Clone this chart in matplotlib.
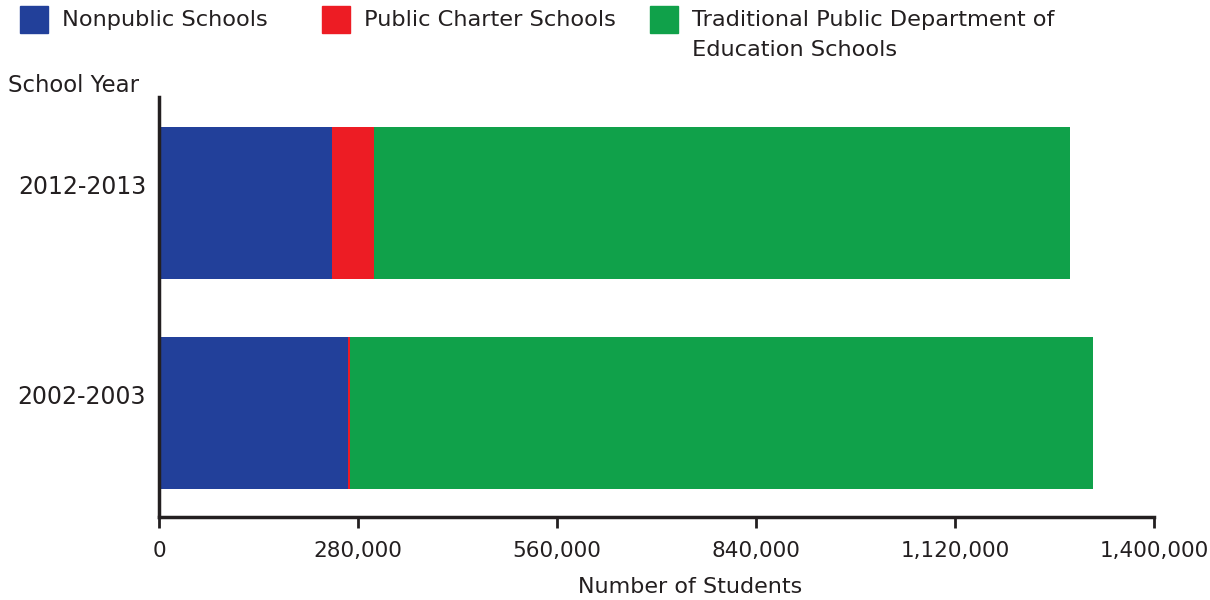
import numpy as np
import matplotlib.pyplot as plt
from matplotlib.patches import Rectangle

# datos
years = ["2002-2003", "2012-2013"]
nonpublic = [265600, 243500]
charter = [3300, 58700]
traditional = [1045000, 980200]
labels = ["Nonpublic Schools", "Public Charter Schools",
          "Traditional Public Department of\nEducation Schools"]
colors = ["#22409A", "#ED1C24", "#10A14A"]
xticks = [0, 280000, 560000, 840000, 1120000, 1400000]

plt.rcParams['font.family'] = ['DejaVu Sans']
dark = "#231F20"

fig = plt.figure(figsize=(12.1, 6), dpi=100)
ax = fig.add_axes([159/1210, 83/600, (1154-159)/1210, (517-97)/600])

pos = np.arange(len(years))
left = np.zeros(len(years))
for vals, c in zip([nonpublic, charter, traditional], colors):
    ax.barh(pos, vals, left=left, height=0.724, color=c, edgecolor="none")
    left = left + np.array(vals)

ax.set_xlim(0, 1400000)
ax.set_ylim(-0.495, 1.505)
ax.set_xticks(xticks)
ax.set_xticklabels([f"{v:,}" for v in xticks], fontsize=15.5, color=dark)
ax.set_yticks([])
# etiquetas de los años un poco por encima del centro de la barra
for p, y in zip(pos, years):
    ax.text(-0.013, p + 0.075, y, transform=ax.get_yaxis_transform(),
            ha='right', va='center', fontsize=17, color=dark)
ax.tick_params(axis='x', length=8, width=2, color=dark, pad=9)

for s in ['top', 'right']:
    ax.spines[s].set_visible(False)
for s in ['left', 'bottom']:
    ax.spines[s].set_linewidth(2.5)
    ax.spines[s].set_color(dark)

# leyenda armada a mano
hx = [20, 322, 650]
tx = [62, 364, 692]
for h, t, lab, c in zip(hx, tx, labels, colors):
    fig.add_artist(Rectangle((h/1210, 1-33/600), 28/1210, 27/600,
                             transform=fig.transFigure, color=c))
    fig.text(t/1210, 1-10/600, lab, fontsize=16.2, color=dark, va='top',
             linespacing=1.65)

fig.text(8/1210, 1-85/600, "School Year", fontsize=16.4, color=dark, va='center')
fig.text(690/1210, 1-587/600, "Number of Students", fontsize=16, color=dark,
         va='center', ha='center')

plt.savefig("out.png", dpi=100)
